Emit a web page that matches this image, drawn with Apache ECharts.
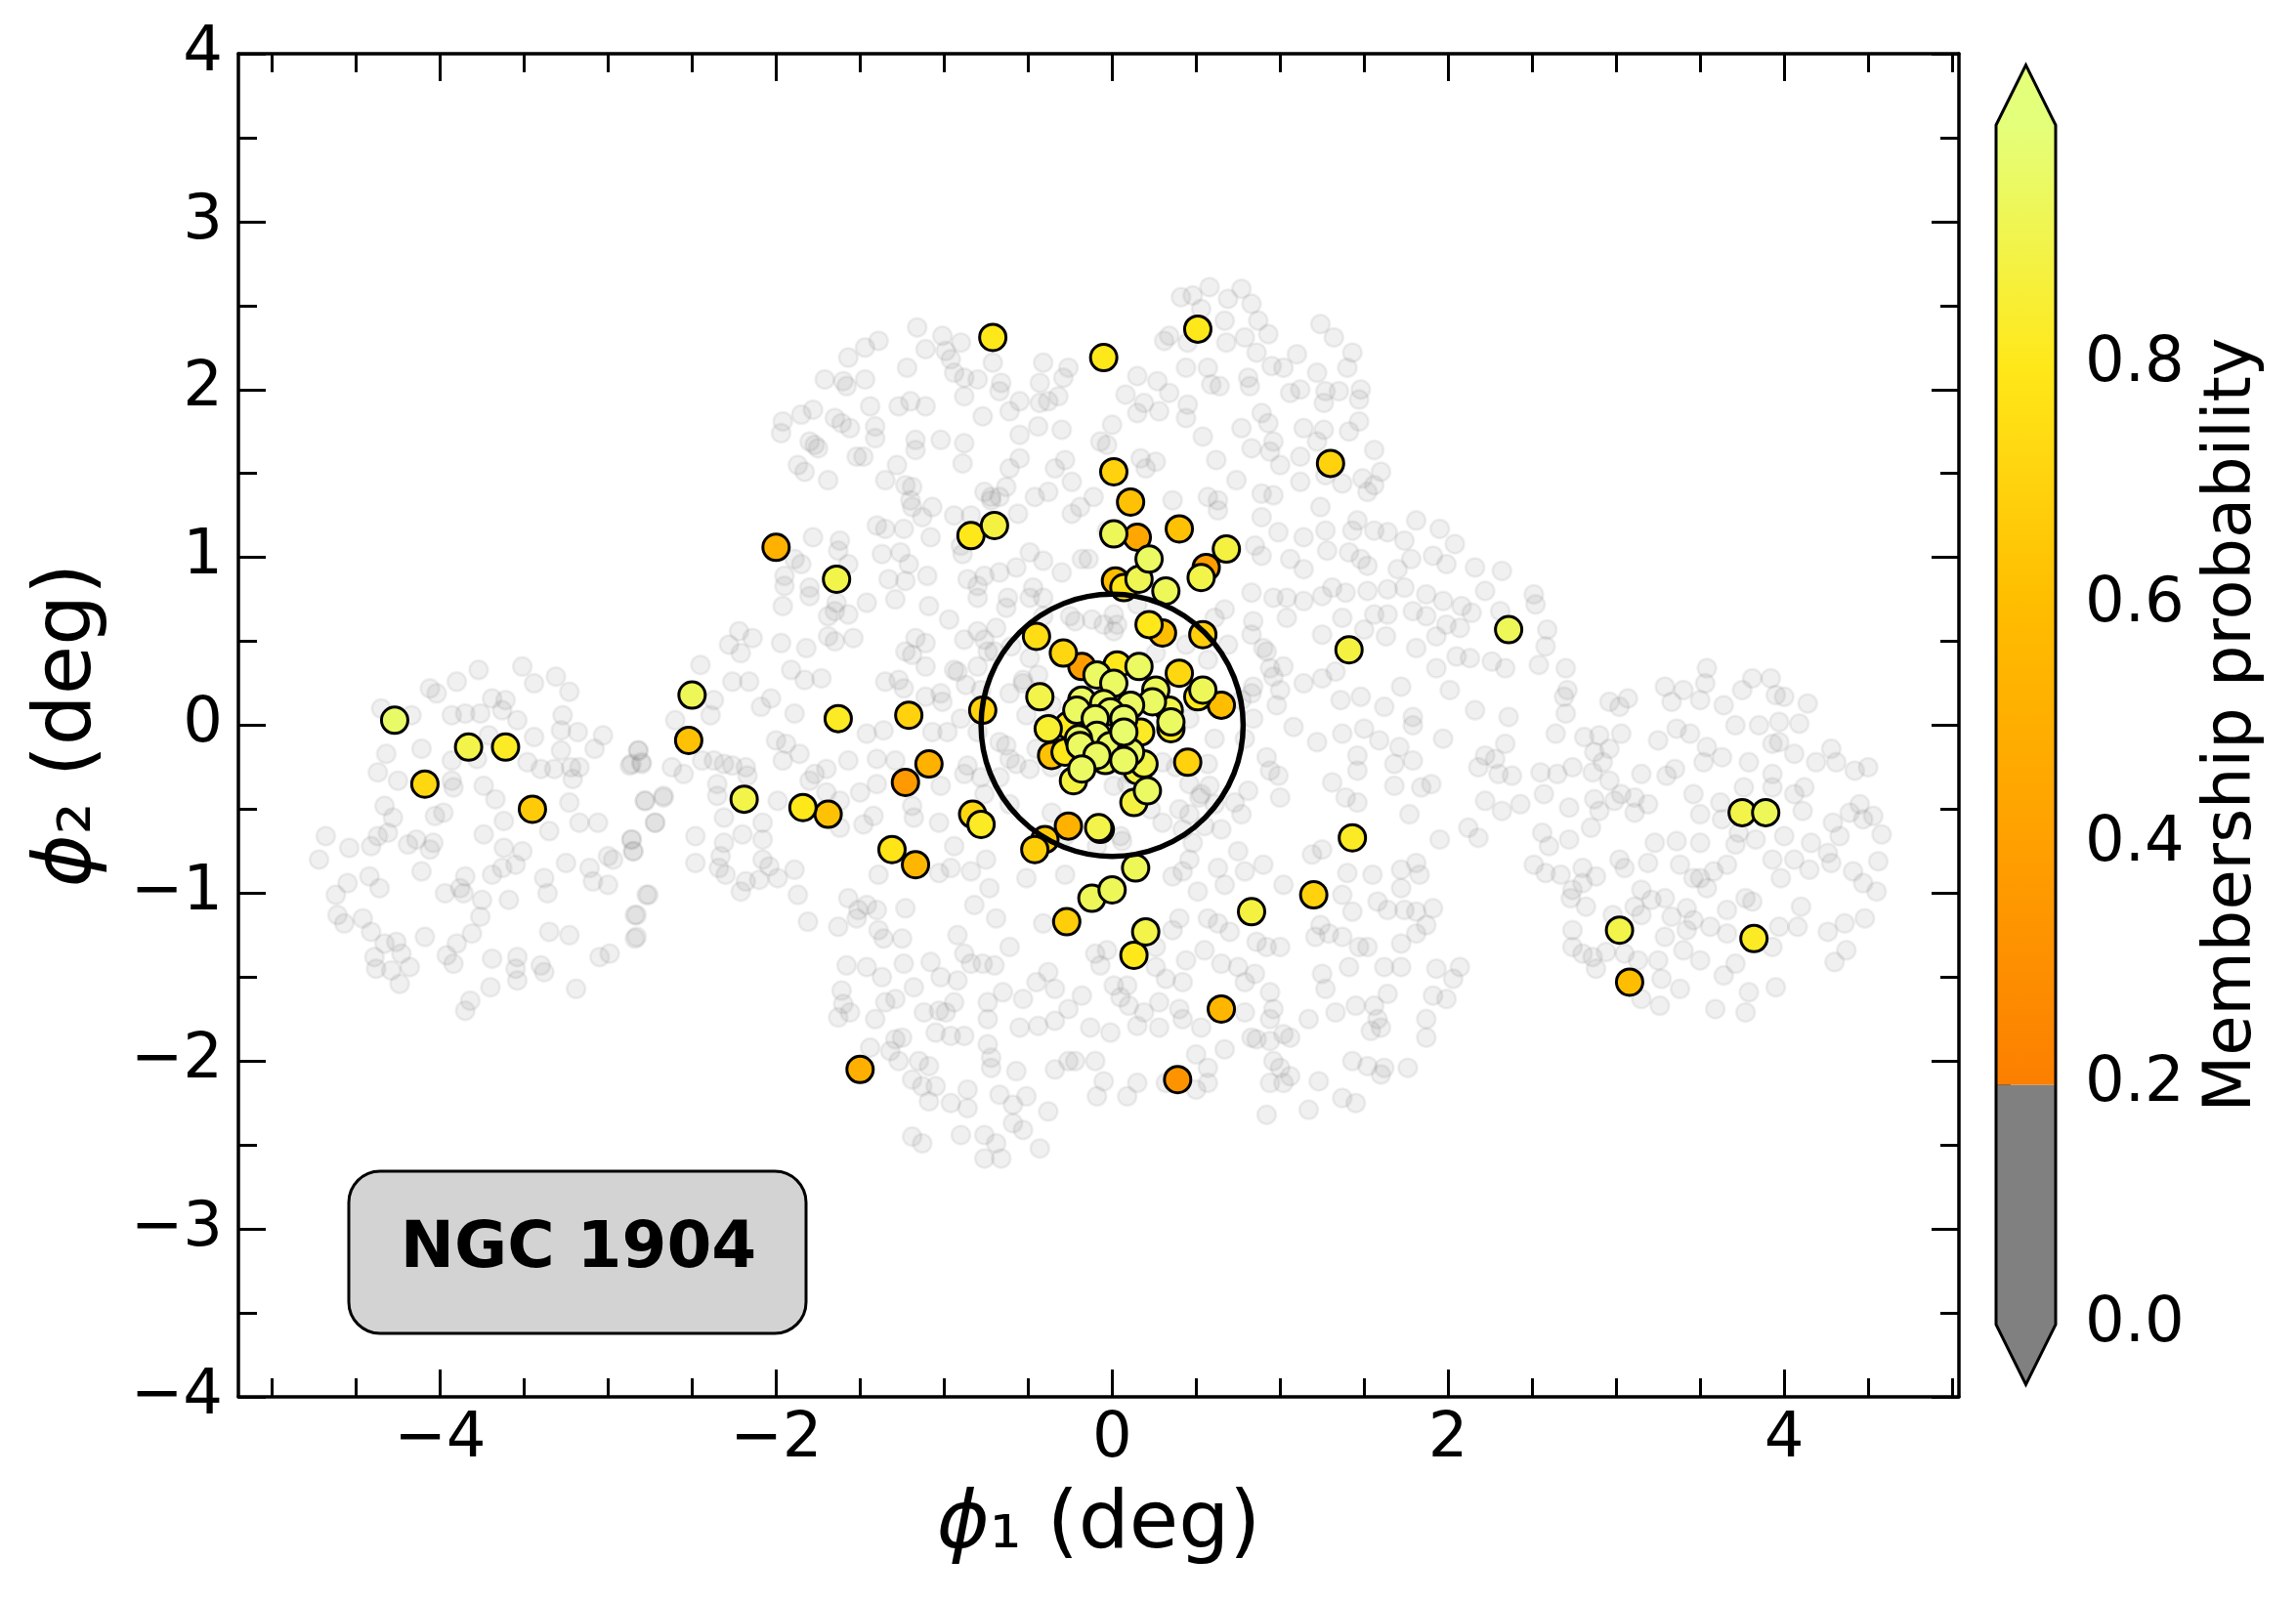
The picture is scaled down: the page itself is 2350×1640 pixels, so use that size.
<!DOCTYPE html>
<html>
<head>
<meta charset="utf-8">
<script src="https://cdn.jsdelivr.net/npm/echarts@6/dist/echarts.min.js"></script>
<style>
  html, body { margin: 0; padding: 0; background: #fff; }
  #chart { width: 2350px; height: 1640px; }
</style>
</head>
<body>
<div id="chart"></div>
<script>
// field stars (phi1, phi2) in deg, grey background
var fieldWest = [
  [-3.77,0.33],[-3.51,0.35],[-3.44,0.25],[-3.31,0.29],[-3.23,0.20],[-4.06,0.22],[-4.02,0.19],[-3.90,0.26],
  [-4.35,0.10],[-4.17,0.06],[-3.93,0.06],[-3.85,0.07],[-3.76,0.07],[-3.69,0.16],[-3.61,0.15],[-3.63,0.09],
  [-3.54,0.03],[-3.27,0.06],[-3.28,-0.03],[-3.18,-0.04],[-3.03,-0.06],[-3.08,-0.14],[-3.44,-0.07],[-3.71,-0.06],
  [-4.32,-0.17],[-4.11,-0.14],[-3.93,-0.21],[-3.78,-0.20],[-3.48,-0.22],[-3.40,-0.26],[-3.32,-0.26],[-3.22,-0.25],
  [-3.17,-0.25],[-3.28,-0.15],[-3.21,-0.32],[-2.82,-0.15],[-2.80,-0.22],[-2.87,-0.24],[-4.37,-0.28],[-4.25,-0.33],
  [-3.93,-0.33],[-3.92,-0.37],[-3.74,-0.36],[-3.67,-0.44],[-4.33,-0.48],[-4.28,-0.55],[-4.03,-0.54],[-3.98,-0.52],
  [-3.23,-0.46],[-3.17,-0.58],[-3.06,-0.58],[-2.78,-0.45],[-2.67,-0.42],[-2.72,-0.58],[-3.62,-0.57],[-3.35,-0.63],
  [-4.68,-0.66],[-4.54,-0.73],[-4.41,-0.72],[-4.37,-0.66],[-4.31,-0.64],[-4.19,-0.71],[-4.14,-0.68],[-4.06,-0.74],
  [-4.04,-0.70],[-3.74,-0.65],[-3.62,-0.73],[-3.51,-0.75],[-3.55,-0.83],[-3.63,-0.85],[-3.69,-0.89],[-3.85,-0.90],
  [-4.72,-0.80],[-4.11,-0.87],[-3.25,-0.82],[-3.11,-0.85],[-3.00,-0.78],[-2.97,-0.80],[-2.86,-0.68],[-2.85,-0.75],
  [-3.38,-0.91],[-3.36,-1.00],[-3.09,-0.93],[-3.00,-0.95],[-4.55,-0.94],[-4.42,-0.90],[-4.36,-0.97],[-4.62,-1.01],
  [-3.97,-1.00],[-3.88,-0.97],[-3.86,-1.00],[-3.75,-1.04],[-3.59,-1.04],[-2.76,-1.01],[-2.83,-1.13],[-4.61,-1.13],
  [-4.57,-1.18],[-4.46,-1.15],[-4.41,-1.23],[-3.76,-1.14],[-3.81,-1.24],[-3.90,-1.30],[-4.09,-1.26],[-4.33,-1.30],
  [-4.26,-1.29],[-4.23,-1.36],[-4.39,-1.38],[-4.38,-1.45],[-4.29,-1.46],[-4.18,-1.44],[-4.24,-1.54],[-3.96,-1.37],
  [-3.92,-1.42],[-3.69,-1.39],[-3.54,-1.38],[-3.40,-1.43],[-3.38,-1.47],[-3.55,-1.45],[-3.54,-1.52],[-3.70,-1.56],
  [-3.35,-1.23],[-3.23,-1.25],[-3.05,-1.38],[-2.99,-1.36],[-2.84,-1.27],[-3.19,-1.57],[-3.82,-1.64],[-3.85,-1.70]
];
var fieldCentral = [
  [-1.16,2.37],[-1.01,2.32],[-0.90,2.28],[-0.99,2.23],[-1.11,2.24],[-0.96,2.18],[-0.94,2.10],[-0.88,2.07],
  [-1.47,2.25],[-1.39,2.29],[-1.57,2.19],[-1.71,2.06],[-1.60,2.05],[-1.58,2.02],[-1.47,2.06],[-1.22,2.13],
  [-0.80,2.06],[-0.71,2.16],[-0.66,2.04],[-0.67,1.99],[-0.88,1.96],[-0.41,2.16],[-0.43,2.04],[-0.29,2.07],
  [-0.26,2.13],[-0.55,1.93],[-0.61,1.87],[-0.43,1.92],[-0.38,1.93],[-0.32,1.96],[-0.77,1.84],[-0.55,1.73],
  [-0.44,1.78],[-0.30,1.76],[-1.97,1.74],[-1.96,1.81],[-1.85,1.85],[-1.78,1.88],[-1.65,1.83],[-1.61,1.80],
  [-1.56,1.77],[-1.44,1.90],[-1.27,1.90],[-1.20,1.93],[-1.11,1.90],[-1.41,1.78],[-1.41,1.71],[-1.80,1.69],
  [-1.77,1.67],[-1.75,1.65],[-1.87,1.55],[-1.83,1.51],[-1.69,1.46],[-1.52,1.60],[-1.48,1.60],[-1.28,1.55],
  [-1.17,1.70],[-1.17,1.64],[-1.02,1.70],[-0.88,1.68],[-0.89,1.56],[-0.61,1.53],[-0.55,1.59],[-0.34,1.53],
  [-0.28,1.58],[-1.35,1.46],[-1.23,1.43],[-1.19,1.42],[-1.20,1.34],[-1.19,1.30],[-1.07,1.30],[-0.76,1.39],
  [-0.72,1.36],[-0.67,1.36],[-0.63,1.42],[-0.46,1.36],[-0.38,1.39],[-0.24,1.45],[-1.40,1.19],[-1.35,1.17],
  [-1.24,1.17],[-1.13,1.24],[-1.08,1.12],[-0.94,1.25],[-0.84,1.25],[-0.72,1.34],[-0.56,1.26],[-0.24,1.26],
  [-1.78,1.12],[-1.62,1.10],[-1.63,1.04],[-1.57,0.96],[-1.37,1.02],[-1.26,1.03],[-1.21,0.96],[-1.10,0.89],
  [-1.33,0.87],[-1.23,0.86],[-1.85,0.96],[-1.89,0.99],[-1.95,0.89],[-1.95,0.83],[-1.80,0.82],[-1.80,0.77],
  [-1.96,0.71],[-1.64,0.73],[-1.65,0.68],[-1.69,0.65],[-1.57,0.66],[-1.46,0.73],[-1.29,0.75],[-1.09,0.71],
  [-0.97,0.63],[-0.86,0.87],[-0.80,0.83],[-0.76,0.89],[-0.67,0.91],[-0.57,0.94],[-0.49,1.03],[-0.41,0.98],
  [-0.30,0.91],[-0.90,1.07],[-0.89,1.02],[-0.80,0.76],[-0.80,0.56],[-0.69,0.58],[-0.74,0.44],[-0.63,0.70],
  [-0.47,0.82],[-0.49,0.76],[-0.41,0.76],[-0.62,0.76],[-2.14,0.52],[-2.22,0.56],[-2.28,0.48],[-2.21,0.43],
  [-1.97,0.49],[-1.82,0.46],[-1.69,0.53],[-1.65,0.50],[-1.54,0.52],[-1.17,0.52],[-1.11,0.49],[-1.23,0.44],
  [-1.19,0.42],[-1.11,0.35],[-0.88,0.51],[-0.76,0.51],[-0.70,0.44],[-2.45,0.36],[-2.26,0.26],[-2.16,0.26],
  [-1.91,0.33],[-1.83,0.27],[-1.73,0.28],[-1.35,0.26],[-1.27,0.27],[-1.24,0.22],[-1.11,0.17],[-1.01,0.14],
  [-0.92,0.32],[-0.87,0.24],[-0.53,0.27],[-0.49,0.40],[-0.44,0.30],[-2.03,0.16],[-2.09,0.11],[-1.89,0.07],
  [-2.37,0.15],[-2.39,0.06],[-2.60,0.03],
  [0.41,2.55],[0.48,2.56],[0.58,2.61],[0.69,2.54],[0.77,2.60],[0.83,2.51],[0.53,2.48],[0.87,2.41],
  [0.93,2.33],[0.67,2.41],[0.68,2.28],[0.79,2.31],[0.34,2.32],[0.31,2.29],[0.45,2.28],[0.86,2.22],
  [1.10,2.21],[1.24,2.39],[1.32,2.31],[1.43,2.22],[1.40,2.13],[1.22,2.10],[0.44,2.13],[0.57,2.13],
  [0.59,2.03],[0.64,2.02],[0.81,2.07],[0.82,2.02],[0.95,2.14],[1.02,2.13],[1.06,1.98],[1.12,2.00],
  [1.27,1.99],[1.35,1.99],[1.48,2.00],[1.47,1.94],[1.26,1.92],[0.08,1.97],[0.15,2.08],[0.27,2.05],
  [0.34,1.98],[0.19,1.92],[0.28,1.87],[0.45,1.91],[0.44,1.83],[0.00,1.79],[-0.07,1.69],[-0.03,1.67],
  [0.15,1.86],[0.54,1.72],[0.62,1.58],[0.77,1.77],[0.83,1.65],[0.89,1.86],[0.93,1.80],[0.96,1.69],
  [0.94,1.63],[1.00,1.55],[1.12,1.60],[1.14,1.77],[1.26,1.76],[1.22,1.69],[1.41,1.75],[1.47,1.81],
  [1.56,1.64],[1.60,1.51],[1.49,1.47],[1.52,1.39],[1.56,1.43],[1.37,1.44],[1.27,1.49],[1.12,1.45],
  [0.96,1.37],[0.89,1.38],[0.74,1.46],[0.63,1.34],[0.57,1.36],[0.63,1.28],[0.36,1.34],[0.17,1.59],
  [0.26,1.57],[0.20,1.53],[-0.11,1.36],[-0.19,1.30],[0.89,1.24],[0.99,1.15],[1.14,1.12],[1.24,1.30],
  [1.27,1.16],[1.43,1.16],[1.46,1.22],[1.56,1.16],[1.64,1.15],[1.74,1.10],[1.81,1.22],[1.95,1.17],
  [2.04,1.08],[0.85,1.07],[0.89,1.01],[1.06,0.99],[1.14,0.93],[1.28,1.04],[1.41,1.03],[1.48,0.99],
  [1.52,0.95],[1.78,0.99],[1.91,1.01],[1.99,0.96],[2.16,0.94],[2.32,0.92],[1.70,0.93],[0.83,0.79],
  [0.96,0.76],[1.04,0.76],[1.14,0.74],[1.25,0.77],[1.31,0.82],[1.39,0.79],[1.52,0.80],[1.64,0.81],
  [1.74,0.82],[1.87,0.78],[1.97,0.74],[2.08,0.71],[2.22,0.80],[2.14,0.67],[2.31,0.68],[1.56,0.66],
  [1.64,0.66],[1.79,0.68],[1.87,0.65],[1.99,0.60],[2.07,0.58],[1.93,0.53],[1.81,0.46],[2.05,0.41],
  [2.13,0.40],[2.26,0.38],[2.34,0.34],[1.93,0.34],[0.67,0.69],[0.84,0.62],[0.90,0.46],[1.04,0.64],
  [1.25,0.54],[1.37,0.64],[1.50,0.57],[1.63,0.53],[0.94,0.34],[1.00,0.21],[1.14,0.25],[1.25,0.28],
  [1.33,0.32],[1.36,0.15],[1.48,0.17],[1.62,0.11],[1.72,0.23],[2.01,0.21],[2.16,0.09],[2.36,0.05],
  [1.79,0.05],[0.98,0.12],[0.83,0.19],[-0.22,0.62],[-0.05,0.60],[0.01,0.66],[-0.18,0.99],[-0.14,0.99],
  [-0.03,1.16],[0.61,0.64],[0.57,0.39],
  [-2.82,-0.15],[-2.86,-0.23],[-2.80,-0.23],[-2.62,-0.25],[-2.55,-0.29],[-2.44,-0.21],[-2.37,-0.21],[-2.31,-0.23],
  [-2.26,-0.24],[-2.18,-0.25],[-2.17,-0.30],[-2.35,-0.35],[-2.35,-0.42],[-2.78,-0.45],[-2.67,-0.43],[-2.72,-0.58],
  [-2.86,-0.68],[-2.85,-0.75],[-2.48,-0.66],[-2.31,-0.55],[-2.31,-0.70],[-2.33,-0.78],[-2.20,-0.65],[-2.08,-0.58],
  [-2.08,-0.68],[-1.99,-0.45],[-2.48,-0.82],[-2.34,-0.85],[-2.30,-0.89],[-2.21,-0.99],[-2.18,-0.93],[-2.08,-0.80],
  [-2.04,-0.84],[-1.99,-0.91],[-2.10,-0.92],[-1.89,-0.86],[-1.87,-1.01],[-2.77,-1.01],[-2.84,-1.13],[-2.83,-1.26],
  [-2.00,-0.09],[-1.94,-0.11],[-1.96,-0.21],[-1.86,-0.17],[-1.80,-0.33],[-1.70,-0.26],[-1.57,-0.21],[-1.46,-0.05],
  [-1.36,-0.03],[-1.40,-0.20],[-1.29,-0.21],[-1.07,-0.04],[-1.40,-0.35],[-1.50,-0.40],[-1.62,-0.45],[-1.70,-0.40],
  [-1.42,-0.54],[-1.48,-0.59],[-1.62,-0.61],[-1.19,-0.48],[-1.18,-0.55],[-1.02,-0.36],[-1.03,-0.58],[-0.86,-0.24],
  [-0.78,-0.31],[-0.67,-0.10],[-0.61,-0.20],[-0.49,-0.26],[-0.94,-0.72],[-0.96,-0.85],[-0.84,-0.87],[-0.75,-0.80],
  [-1.03,-0.88],[-1.39,-0.89],[-0.51,-0.91],[-0.41,-1.18],[-0.28,-0.89],[-0.73,-0.97],[-0.69,-1.15],[-0.82,-1.07],
  [-1.57,-1.03],[-1.51,-1.10],[-1.46,-1.07],[-1.40,-1.10],[-1.52,-1.15],[-1.23,-1.09],[-1.81,-1.17],[-1.63,-1.20],
  [-1.39,-1.22],[-1.36,-1.27],[-1.25,-1.27],[-0.92,-1.25],[-0.61,-1.32],[-0.88,-1.36],[-0.84,-1.42],[-0.77,-1.42],
  [-0.70,-1.43],[-1.08,-1.41],[-1.02,-1.50],[-0.92,-1.52],[-1.24,-1.42],[-1.18,-1.56],[-1.58,-1.43],[-1.46,-1.44],
  [-1.37,-1.50],[-1.61,-1.58],[-1.60,-1.66],[-1.63,-1.74],[-1.56,-1.71],[-1.41,-1.75],[-1.35,-1.65],[-1.29,-1.63],
  [-1.12,-1.71],[-1.03,-1.70],[-0.99,-1.71],[-0.94,-1.65],[-0.74,-1.65],[-0.74,-1.75],[-0.65,-1.59],[-0.53,-1.63],
  [-0.45,-1.53],[-0.38,-1.47],[-0.34,-1.57],[-0.26,-1.69],[-0.55,-1.80],[-0.44,-1.79],[-0.34,-1.76],[-1.05,-1.83],
  [-0.96,-1.85],[-0.88,-1.85],[-0.74,-1.90],[-0.72,-1.98],[-0.72,-2.04],[-0.57,-2.06],[-0.34,-2.05],[-0.26,-2.00],
  [-1.29,-1.87],[-1.32,-1.94],[-1.25,-1.86],[-1.27,-2.00],[-1.15,-2.00],[-1.09,-2.03],[-1.19,-2.11],[-1.13,-2.15],
  [-1.05,-2.15],[-1.09,-2.24],[-0.96,-2.25],[-0.86,-2.17],[-0.86,-2.28],[-0.67,-2.20],[-0.59,-2.26],[-0.51,-2.21],
  [-0.38,-2.30],[-0.59,-2.37],[-0.53,-2.41],[-1.44,-1.92],[-1.19,-2.45],[-1.13,-2.49],[-0.90,-2.44],[-0.76,-2.44],
  [-0.69,-2.49],[-0.76,-2.58],[-0.66,-2.58],[-0.43,-2.52],[-1.77,-0.29],
  [1.08,-0.01],[1.22,-0.10],[1.37,-0.05],[1.50,-0.02],[1.59,-0.09],[1.79,0.00],[1.97,-0.08],[2.22,-0.18],
  [2.18,-0.25],[2.28,-0.20],[2.34,-0.11],[2.38,-0.30],[2.30,-0.29],[2.22,-0.45],[2.32,-0.51],[2.43,-0.47],
  [2.12,-0.61],[2.18,-0.67],[1.95,-0.68],[1.71,-0.13],[1.79,-0.21],[1.68,-0.23],[1.46,-0.18],[1.46,-0.27],
  [1.31,-0.34],[1.39,-0.43],[1.46,-0.46],[1.68,-0.36],[1.84,-0.37],[1.90,-0.35],[1.77,-0.53],[0.94,-0.27],
  [0.99,-0.30],[1.00,-0.43],[0.81,-0.39],[0.77,-0.53],[0.73,-0.46],[0.58,-0.36],[0.52,-0.43],[0.46,-0.53],
  [0.38,-0.25],[0.30,-0.22],[0.09,-0.35],[0.01,-0.36],[0.06,-0.69],[0.42,-0.62],[0.48,-0.70],[0.55,-0.60],
  [0.46,-0.80],[0.36,-0.90],[0.42,-0.87],[0.51,-0.99],[0.63,-0.85],[0.67,-0.95],[0.75,-0.75],[0.79,-0.87],
  [0.90,-0.83],[1.02,-0.95],[1.19,-0.77],[1.25,-0.74],[1.40,-0.88],[1.55,-0.89],[1.72,-0.86],[1.81,-0.82],
  [1.83,-0.89],[1.72,-0.97],[1.58,-1.05],[1.64,-1.10],[1.74,-1.10],[1.81,-1.11],[1.91,-1.09],[1.87,-1.19],
  [1.81,-1.24],[1.72,-1.30],[1.43,-1.11],[1.37,-1.01],[1.24,-1.19],[1.29,-1.24],[1.21,-1.26],[1.37,-1.26],
  [1.47,-1.32],[1.52,-1.32],[1.41,-1.44],[1.25,-1.48],[1.27,-1.57],[1.17,-1.75],[1.33,-1.71],[1.45,-1.67],
  [1.56,-1.67],[1.58,-1.75],[1.64,-1.60],[1.72,-1.44],[1.62,-1.44],[1.54,-1.82],[1.60,-1.80],[1.87,-1.75],
  [1.87,-1.86],[1.91,-1.61],[1.99,-1.63],[2.03,-1.51],[2.07,-1.44],[1.93,-1.45],[1.76,-2.04],[1.62,-2.04],
  [1.52,-2.03],[1.43,-2.00],[1.60,-2.08],[1.23,-2.12],[1.17,-2.29],[0.92,-2.32],[1.45,-2.25],[1.37,-2.22],
  [1.02,-2.13],[1.00,-2.04],[0.96,-2.00],[0.94,-2.13],[1.06,-2.09],[0.86,-1.87],[0.83,-1.86],[0.94,-1.88],
  [1.02,-1.84],[0.94,-1.75],[0.96,-1.69],[1.06,-1.86],[0.79,-1.71],[0.94,-1.59],[0.79,-1.53],[0.85,-1.48],
  [0.75,-1.44],[0.65,-1.42],[0.92,-1.32],[1.00,-1.32],[0.86,-1.29],[0.70,-1.23],[0.57,-1.15],[0.63,-1.18],
  [0.55,-1.34],[0.44,-1.40],[0.42,-1.53],[0.32,-1.51],[0.28,-1.65],[0.19,-1.71],[0.10,-1.67],[0.05,-1.62],
  [0.01,-1.55],[-0.07,-1.43],[-0.10,-1.36],[-0.18,-1.61],[-0.13,-1.80],[-0.01,-1.83],[0.15,-1.79],[0.28,-1.80],
  [0.40,-1.69],[0.42,-1.75],[0.53,-1.80],[0.50,-1.96],[0.57,-2.04],[0.67,-1.93],[0.57,-2.13],[0.50,-2.17],
  [0.32,-2.13],[0.15,-2.13],[0.09,-2.21],[-0.09,-2.21],[-0.05,-2.12],[-0.22,-2.00],[-0.10,-2.00],[0.26,-1.32],
  [0.26,-1.44],[0.09,-1.55],[-0.03,-1.34],[0.36,-1.22],[0.40,-1.15],
  [-0.60,0.47],[-0.41,0.65],[-0.25,0.65],[-0.12,0.63],[0.03,0.60],[0.15,0.72],[0.26,0.43],[0.44,0.48],
  [0.01,0.56],[-0.53,0.25],[-0.61,0.19],[-0.51,0.06],[-0.36,0.12],[-0.78,0.21],[-0.80,0.35],[-0.94,0.33],
  [-1.02,0.19],[-0.90,0.04],[-0.98,-0.04],[-0.80,-0.04],[-0.63,-0.12],[-0.57,-0.23],[-0.67,-0.31],[-0.76,-0.41],
  [-0.88,-0.29],[-0.45,-0.14],[-0.36,-0.25],[-0.61,-0.47],[-0.36,-0.52],[-0.28,-0.66],[-0.09,-0.72],[0.05,-0.66],
  [0.17,-0.41],[0.11,-0.29],[0.23,-0.50],[0.30,-0.58],[0.40,-0.50],[0.46,-0.35],[0.53,-0.41],[0.61,-0.47],
  [0.57,-0.23],[0.61,-0.08],[0.46,0.04],[0.65,-0.62],[0.69,0.48],[0.77,0.15],[0.84,0.23],[0.96,0.29],
  [1.02,0.35],[0.92,0.44],[0.83,0.54],[0.84,0.04],[0.79,-0.08],[0.92,-0.19]
];
var fieldEast = [
  [2.51,0.78],[2.52,0.72],[2.59,0.57],[2.58,0.47],[2.54,0.36],[2.70,0.34],[2.71,0.21],[2.69,0.17],
  [2.70,0.07],[2.64,-0.05],[2.55,-0.28],[2.65,-0.29],[2.74,-0.25],[2.57,-0.41],[2.72,-0.49],[2.56,-0.64],
  [2.60,-0.72],[2.72,-0.68],[2.85,-0.61],[2.96,0.14],[3.07,0.16],[3.02,0.11],[2.81,-0.07],[2.90,-0.06],
  [3.03,-0.05],[2.87,-0.16],[2.96,-0.14],[2.92,-0.22],[2.86,-0.28],[2.96,-0.33],[2.99,-0.45],[2.87,-0.44],
  [2.90,-0.51],[3.03,-0.41],[3.11,-0.43],[3.19,-0.47],[3.11,-0.52],[3.15,-0.29],[3.25,-0.09],[3.23,-0.70],
  [3.19,-0.82],[3.02,-0.80],[3.05,-0.85],[2.88,-0.90],[2.80,-0.85],[2.80,-0.94],[2.58,-0.88],[2.51,-0.83],
  [2.67,-0.89],[2.74,-0.98],[2.73,-1.03],[2.82,-1.08],[3.15,-0.98],[3.11,-1.08],[3.21,-1.04],[3.15,-1.13],
  [3.25,-1.40],[3.13,-1.40],[3.05,-1.36],[2.94,-1.35],[2.88,-1.45],[2.74,-1.22],[2.74,-1.32],[2.80,-1.36],
  [2.86,-1.38],[2.98,-1.13],[3.26,-1.67],[3.15,-1.63],
  [3.29,0.23],[3.33,0.14],[3.40,0.21],[3.54,0.34],[3.53,0.25],[3.50,0.15],[3.64,0.12],[3.75,0.21],
  [3.81,0.28],[3.92,0.28],[3.95,0.18],[4.00,0.17],[4.14,0.13],[3.36,-0.02],[3.44,-0.05],[3.54,-0.13],
  [3.63,-0.19],[3.71,0.00],[3.85,0.00],[3.97,0.02],[4.09,0.01],[3.93,-0.11],[3.97,-0.10],[4.06,-0.17],
  [4.28,-0.14],[4.19,-0.22],[4.31,-0.22],[4.42,-0.27],[4.50,-0.25],[3.52,-0.22],[3.35,-0.26],[3.30,-0.30],
  [3.46,-0.41],[3.62,-0.46],[3.79,-0.22],[3.93,-0.29],[3.93,-0.37],[4.06,-0.41],[4.12,-0.37],[3.76,-0.37],
  [3.50,-0.53],[3.63,-0.56],[4.11,-0.51],[4.29,-0.58],[4.39,-0.52],[4.45,-0.47],[4.53,-0.54],[4.58,-0.65],
  [4.56,-0.81],[4.47,-0.56],[4.33,-0.66],[4.16,-0.70],[4.26,-0.76],[4.06,-0.80],[4.15,-0.86],[4.00,-0.66],
  [3.93,-0.80],[3.83,-0.68],[3.71,-0.71],[3.73,-0.64],[3.98,-0.91],[4.28,-0.82],[4.41,-0.87],[4.55,-0.99],
  [4.47,-0.94],[3.66,-0.83],[3.58,-0.87],[3.50,-0.91],[3.38,-0.83],[3.50,-0.70],[3.36,-0.69],[3.29,-1.03],
  [3.33,-1.14],[3.42,-1.09],[3.46,-1.16],[3.56,-1.20],[3.66,-1.10],[3.81,-1.05],[3.77,-1.03],[4.10,-1.08],
  [4.08,-1.20],[3.97,-1.20],[3.93,-1.32],[4.26,-1.23],[4.36,-1.18],[4.48,-1.15],[4.37,-1.34],[4.30,-1.41],
  [3.66,-1.24],[3.71,-1.42],[3.64,-1.49],[3.79,-1.59],[3.95,-1.56],[3.77,-1.71],[3.59,-1.69],[3.38,-1.57],
  [3.27,-1.51],[3.29,-1.26],[3.42,-1.22],[3.50,-1.40],[3.40,-1.34],[3.54,-0.97],[3.46,-0.91]
];

// candidate members: phi1, phi2, membership probability
var members = [
  [-4.27,0.03,0.96],[-4.09,-0.35,0.72],[-3.83,-0.13,0.90],[-3.61,-0.13,0.82],[-3.45,-0.50,0.66],
  [-2.50,0.18,0.93],[-2.52,-0.09,0.62],[-2.19,-0.44,0.90],[-2.00,1.06,0.52],[-1.84,-0.49,0.80],
  [-1.69,-0.53,0.62],[-1.64,0.87,0.90],[-1.63,0.04,0.82],[-1.50,-2.05,0.50],[-1.31,-0.74,0.78],
  [-1.21,0.06,0.70],[-1.23,-0.34,0.36],[-1.09,-0.23,0.52],[-1.17,-0.83,0.55],[-0.84,1.13,0.80],
  [-0.70,1.19,0.88],[-0.71,2.31,0.80],[-0.83,-0.53,0.72],[-0.78,-0.59,0.82],[-0.77,0.09,0.70],
  [-0.45,0.53,0.75],[-0.43,0.17,0.90],[-0.46,-0.74,0.68],[-0.40,-0.68,0.65],[-0.29,0.43,0.72],
  [-0.27,-1.17,0.68],[-0.26,-0.60,0.52],[-0.05,2.19,0.80],[-0.12,-1.03,0.93],[0.00,-0.98,0.93],
  [0.01,1.51,0.70],[0.11,1.33,0.62],[0.15,1.12,0.45],[0.01,1.14,0.93],[0.22,0.99,0.95],
  [0.40,1.17,0.62],[0.68,1.05,0.88],[0.56,0.94,0.38],[0.53,0.88,0.90],[0.02,0.86,0.60],
  [0.07,0.82,0.78],[0.16,0.87,0.92],[0.32,0.80,0.93],[0.51,2.36,0.80],[1.30,1.56,0.70],
  [1.41,0.45,0.88],[2.36,0.57,0.93],[0.22,0.60,0.80],[0.30,0.55,0.60],[0.54,0.54,0.68],
  [0.40,0.31,0.72],[0.54,0.21,0.93],[0.65,0.12,0.60],[0.45,-0.22,0.70],[-0.07,-0.62,0.88],
  [0.14,-0.85,0.93],[0.20,-1.23,0.90],[0.13,-1.37,0.80],[1.43,-0.67,0.82],[1.20,-1.01,0.70],
  [0.83,-1.11,0.88],[0.65,-1.69,0.55],[0.39,-2.11,0.32],[0.21,-0.39,0.95],[0.13,-0.46,0.88],
  [3.75,-0.52,0.90],[3.89,-0.52,0.93],[3.02,-1.22,0.90],[3.08,-1.53,0.60],[3.82,-1.27,0.82],
  [-0.18,0.35,0.38],[-0.09,0.30,0.95],[0.03,0.36,0.80],[0.16,0.35,0.95],[0.51,0.17,0.80],
  [0.01,0.25,0.95],[-0.18,0.15,0.95],[-0.21,0.09,0.95],[0.26,0.21,0.93],[0.24,0.14,0.95],
  [-0.05,0.13,0.95],[0.11,0.12,0.95],[0.07,0.04,0.96],[-0.01,0.08,0.95],[-0.10,0.04,0.95],
  [-0.38,-0.02,0.85],[-0.26,0.00,0.80],[0.34,0.09,0.90],[0.35,0.02,0.95],[0.35,-0.02,0.80],
  [0.07,-0.04,0.97],[-0.09,-0.06,0.95],[-0.20,-0.08,0.95],[0.17,-0.04,0.82],[-0.36,-0.18,0.62],
  [-0.28,-0.16,0.80],[-0.19,-0.12,0.95],[-0.01,-0.12,0.95],[0.11,-0.16,0.95],[-0.09,-0.18,0.95],
  [0.07,-0.21,0.95],[-0.04,-0.21,0.93],[0.19,-0.23,0.90],[-0.18,-0.26,0.95],[-0.23,-0.33,0.88],
  [0.15,-0.27,0.88],[-0.08,-0.61,0.90]
];

// tidal radius circle: centre phi1, phi2, radius (deg)
var tidalCircle = [[0, 0, 0.78]];

var xMajor = [-4, -2, 0, 2, 4];
var xMinor = [-5, -4.5, -3.5, -3, -2.5, -1.5, -1, -0.5, 0.5, 1, 1.5, 2.5, 3, 3.5, 4.5, 5];
var yMajor = [-4, -3, -2, -1, 0, 1, 2, 3, 4];
var yMinor = [-3.5, -2.5, -1.5, -0.5, 0.5, 1.5, 2.5, 3.5];
var xRange = [-5.2, 5.04];
var yRange = [-4, 4];

// colour bar: Wistia reversed over [0.2, 1], grey below 0.2
var cbTicks = [0, 0.2, 0.4, 0.6, 0.8];
var cbLevels = [0, 0.2, 1.0];
var cbExtend = 0.05;
var wistiaR = ['#fc7f00', '#ffa000', '#ffbd00', '#ffe81a', '#e4ff7a'];
var underColor = '#808080';

var FONT = 'DejaVu Sans';
var chart = echarts.init(document.getElementById('chart'), null, {renderer: 'canvas', width: 2350, height: 1640});

function minus(v) { return String(v).replace('-', '\u2212'); }

function mainAxis(dim, pos, values, len, withLine, withLabel) {
  var r = dim === 'x' ? xRange : yRange;
  return {
    type: 'value', gridIndex: 0, position: pos, min: r[0], max: r[1],
    axisLine: {show: withLine, onZero: false, lineStyle: {color: '#000', width: 3.5}},
    axisTick: {show: true, inside: true, length: len, customValues: values, lineStyle: {color: '#000', width: 3}},
    axisLabel: withLabel ? {
      show: true, customValues: values, formatter: minus, color: '#000',
      fontSize: 64, fontFamily: FONT, margin: dim === 'x' ? 12 : 16
    } : {show: false},
    splitLine: {show: false}
  };
}

var xAxes = [
  mainAxis('x', 'bottom', xMajor, 28, true, true),
  mainAxis('x', 'top', xMajor, 28, true, false),
  mainAxis('x', 'bottom', xMinor, 19, false, false),
  mainAxis('x', 'top', xMinor, 19, false, false),
  {type: 'value', gridIndex: 1, min: 0, max: 1, show: false}
];
xAxes[0].name = '{i|\u03d5}\u2081 (deg)';
xAxes[0].nameLocation = 'middle';
xAxes[0].nameGap = 92;
xAxes[0].nameTextStyle = {fontSize: 82, fontFamily: FONT, color: '#000',
  rich: {i: {fontSize: 82, fontFamily: FONT, fontStyle: 'italic', color: '#000'}}};

var yAxes = [
  mainAxis('y', 'left', yMajor, 28, true, true),
  mainAxis('y', 'right', yMajor, 28, true, false),
  mainAxis('y', 'left', yMinor, 19, false, false),
  mainAxis('y', 'right', yMinor, 19, false, false),
  {
    type: 'value', gridIndex: 1, position: 'right', min: 0, max: 1,
    axisLine: {show: false},
    axisTick: {show: true, inside: false, length: 15, customValues: cbTicks, lineStyle: {color: '#000', width: 3}},
    axisLabel: {show: true, customValues: cbTicks, formatter: function (v) { return v.toFixed(1); },
      color: '#000', fontSize: 64, fontFamily: FONT, margin: 30},
    splitLine: {show: false},
    name: 'Membership probability', nameLocation: 'middle', nameRotate: 90, nameGap: 148,
    nameTextStyle: {fontSize: 67, fontFamily: FONT, color: '#000'}
  }
];
yAxes[0].name = '{i|\u03d5}\u2082 (deg)';
yAxes[0].nameLocation = 'middle';
yAxes[0].nameRotate = 90;
yAxes[0].nameGap = 132;
yAxes[0].nameTextStyle = {fontSize: 82, fontFamily: FONT, color: '#000',
  rich: {i: {fontSize: 82, fontFamily: FONT, fontStyle: 'italic', color: '#000'}}};

// draw higher probabilities on top
var membersSorted = members.slice().sort(function (a, b) { return a[2] - b[2]; });
var field = fieldWest.concat(fieldCentral, fieldEast);

function renderColorbar(params, api) {
  var lo = api.value(0), hi = api.value(1);
  var p0 = api.coord([0, lo]), p1 = api.coord([1, hi]);
  var x0 = p0[0], x1 = p1[0], yLo = p0[1], yHi = p1[1], xm = (x0 + x1) / 2;
  var tip = api.size([0, cbExtend])[1];
  if (params.dataIndex === 0) {
    return {type: 'group', children: [
      {type: 'rect', shape: {x: x0, y: yHi, width: x1 - x0, height: yLo - yHi}, style: {fill: underColor}},
      {type: 'polygon', shape: {points: [[x0, yLo], [x1, yLo], [xm, yLo + tip]]}, style: {fill: underColor}}
    ]};
  }
  if (params.dataIndex === 1) {
    var stops = wistiaR.map(function (c, i) { return {offset: i / (wistiaR.length - 1), color: c}; });
    return {type: 'group', children: [
      {type: 'rect', shape: {x: x0, y: yHi, width: x1 - x0, height: yLo - yHi},
        style: {fill: {type: 'linear', x: 0, y: 1, x2: 0, y2: 0, colorStops: stops}}},
      {type: 'polygon', shape: {points: [[x0, yHi], [x1, yHi], [xm, yHi - tip]]},
        style: {fill: wistiaR[wistiaR.length - 1]}}
    ]};
  }
  return {type: 'polygon',
    shape: {points: [[x0, yHi], [xm, yHi - tip], [x1, yHi], [x1, yLo], [xm, yLo + tip], [x0, yLo]]},
    style: {fill: 'none', stroke: '#000', lineWidth: 3}};
}

var option = {
  backgroundColor: '#fff',
  animation: false,
  grid: [
    {left: 244, right: 345, top: 55, bottom: 210, containLabel: false},
    {left: 2043, width: 61, top: 128, bottom: 284, containLabel: false}
  ],
  xAxis: xAxes,
  yAxis: yAxes,
  visualMap: [{
    type: 'continuous', show: false, seriesIndex: 1, dimension: 2,
    min: cbLevels[1], max: cbLevels[2], inRange: {color: wistiaR}
  }],
  graphic: [
    {type: 'rect', shape: {x: 357, y: 1199, width: 468, height: 166, r: 32},
      style: {fill: '#d3d3d3', stroke: '#000', lineWidth: 3}, z: 100},
    {type: 'text', x: 592, y: 1280, z: 101,
      style: {text: 'NGC 1904', font: 'bold 66px "DejaVu Sans"', fill: '#000', textAlign: 'center', textVerticalAlign: 'middle'}}
  ],
  series: [
    {
      type: 'scatter', xAxisIndex: 0, yAxisIndex: 0, data: field, symbolSize: 19, silent: true,
      itemStyle: {color: 'rgba(128,128,128,0.15)', borderColor: 'rgba(128,128,128,0.16)', borderWidth: 2.5}
    },
    {
      type: 'scatter', xAxisIndex: 0, yAxisIndex: 0, data: membersSorted, symbolSize: 27, silent: true,
      itemStyle: {borderColor: '#000', borderWidth: 3, opacity: 1}
    },
    {
      type: 'custom', xAxisIndex: 0, yAxisIndex: 0, data: tidalCircle, silent: true, z: 5,
      renderItem: function (params, api) {
        var c = api.coord([api.value(0), api.value(1)]);
        var r = api.size([api.value(2), 0])[0];
        return {type: 'circle', shape: {cx: c[0], cy: c[1], r: r}, style: {fill: 'none', stroke: '#000', lineWidth: 5.5}};
      }
    },
    {
      type: 'custom', xAxisIndex: 4, yAxisIndex: 4, silent: true,
      data: [[cbLevels[0], cbLevels[1]], [cbLevels[1], cbLevels[2]], [cbLevels[0], cbLevels[2]]],
      renderItem: renderColorbar
    }
  ]
};
chart.setOption(option);
</script>
</body>
</html>
